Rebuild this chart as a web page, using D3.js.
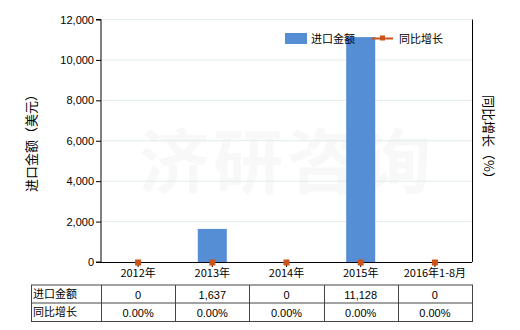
<!DOCTYPE html>
<html><head><meta charset="utf-8">
<script src="https://cdn.jsdelivr.net/npm/d3@7"></script>
<style>body{margin:0;background:#fff}svg{display:block;font-family:"Noto Sans CJK SC","Noto Sans",sans-serif}</style>
</head><body><svg id="c" width="520" height="330"></svg>
<script>
const categories = ["2012年","2013年","2014年","2015年","2016年1-8月"];
const importValues = [0, 1637, 0, 11128, 0];
const growthValues = [0, 0, 0, 0, 0];
const yTicks = [0, 2000, 4000, 6000, 8000, 10000, 12000];
const seriesNames = ["进口金额","同比增长"];

const svg = d3.select("#c");
const L = 101, R = 472, T = 19.5, B = 262;
const x = d3.scaleBand().domain(categories).range([L, R]);
const y = d3.scaleLinear().domain([0, 12000]).range([B, T]);
const y2 = d3.scaleLinear().domain([0, 1]).range([B + 0.5, T]);
const fmt = d3.format(",");

// watermark
svg.append("text").attr("x", 287).attr("y", 188).attr("text-anchor", "middle")
  .attr("font-size", 70).attr("font-weight", "bold").attr("fill", "#f8f8f8")
  .attr("letter-spacing", 4).text("济研咨询");

// grid
svg.append("g").selectAll("line").data(yTicks.filter(d => d > 0)).join("line")
  .attr("x1", L).attr("x2", R).attr("y1", d => y(d)).attr("y2", d => y(d))
  .attr("stroke", "#e1ecec").attr("stroke-width", 1);

// bars
const bw = 29;
svg.append("g").selectAll("rect").data(importValues).join("rect")
  .attr("x", (d, i) => x(categories[i]) + x.bandwidth() / 2 - bw / 2)
  .attr("width", bw)
  .attr("y", d => y(d)).attr("height", d => B - y(d))
  .attr("fill", "#558ed5");

// growth line (under the axis)
const line = d3.line().x((d, i) => x(categories[i]) + x.bandwidth() / 2).y(d => y2(d));
svg.append("path").datum(growthValues).attr("d", line).attr("fill", "none").attr("stroke", "#c8541a").attr("stroke-width", 1);

// left axis
const ax = svg.append("g").attr("transform", `translate(${L},0)`)
  .call(d3.axisLeft(y).tickValues(yTicks).tickFormat(fmt).tickSize(5).tickPadding(2));
ax.selectAll("text").attr("font-size", 11).attr("fill", "#000").attr("font-family", "Liberation Sans, Arial, sans-serif");
ax.selectAll("line,path").attr("stroke", "#000");
ax.select(".domain").attr("d", `M-5,${T}H0V${B}H-5`);

// bottom axis
svg.append("line").attr("x1", L).attr("x2", R).attr("y1", B + 0.5).attr("y2", B + 0.5).attr("stroke", "#000");
svg.append("g").selectAll("line").data(categories).join("line")
  .attr("x1", d => x(d) + x.bandwidth() / 2).attr("x2", d => x(d) + x.bandwidth() / 2)
  .attr("y1", B).attr("y2", B + 5).attr("stroke", "#000");
svg.append("g").selectAll("text").data(categories).join("text")
  .attr("x", d => x(d) + x.bandwidth() / 2).attr("y", B + 15).attr("text-anchor", "middle")
  .attr("font-size", 11).text(d => d);

// right axis
svg.append("line").attr("x1", R + 0.5).attr("x2", R + 0.5).attr("y1", T).attr("y2", B).attr("stroke", "#000");

// growth markers
svg.append("g").selectAll("rect").data(growthValues).join("rect")
  .attr("x", (d, i) => x(categories[i]) + x.bandwidth() / 2 - 3).attr("y", d => y2(d) - 3)
  .attr("width", 6).attr("height", 6).attr("fill", "#c8541a");

// axis titles
svg.append("text").attr("transform", "translate(36,140) rotate(-90)").attr("text-anchor", "middle")
  .attr("font-size", 13).text("进口金额（美元）");
svg.append("text").attr("transform", "translate(484,140) rotate(90)").attr("text-anchor", "middle")
  .attr("font-size", 13).text("同比增长（%）");

// legend
svg.append("rect").attr("x", 285).attr("y", 33).attr("width", 22).attr("height", 11).attr("fill", "#558ed5");
svg.append("text").attr("x", 311).attr("y", 43).attr("font-size", 11).text(seriesNames[0]);
svg.append("line").attr("x1", 372).attr("x2", 393).attr("y1", 38.5).attr("y2", 38.5).attr("stroke", "#c8541a").attr("stroke-width", 2);
svg.append("rect").attr("x", 380).attr("y", 35.5).attr("width", 5).attr("height", 5).attr("fill", "#c8541a");
svg.append("text").attr("x", 399).attr("y", 43).attr("font-size", 11).text(seriesNames[1]);

// table
const tT = 285, tM = 303, tB = 321.5, tL = 31.5;
const tg = svg.append("g").attr("stroke", "#444").attr("fill", "none");
tg.append("rect").attr("x", tL).attr("y", tT).attr("width", R + 0.5 - tL).attr("height", tB - tT);
tg.append("line").attr("x1", tL).attr("x2", R + 0.5).attr("y1", tM).attr("y2", tM);
tg.selectAll("line.c").data(categories).join("line").attr("class", "c")
  .attr("x1", d => Math.round(x(d)) + 0.5).attr("x2", d => Math.round(x(d)) + 0.5).attr("y1", tT).attr("y2", tB);
svg.append("text").attr("x", 33).attr("y", 298).attr("font-size", 11).text(seriesNames[0]);
svg.append("text").attr("x", 33).attr("y", 316).attr("font-size", 11).text(seriesNames[1]);
svg.append("g").selectAll("text").data(importValues).join("text")
  .attr("x", (d, i) => x(categories[i]) + x.bandwidth() / 2).attr("y", 299).attr("text-anchor", "middle")
  .attr("font-size", 11).attr("font-family", "Liberation Sans, Arial, sans-serif").text(d => fmt(d));
svg.append("g").selectAll("text").data(growthValues).join("text")
  .attr("x", (d, i) => x(categories[i]) + x.bandwidth() / 2).attr("y", 317).attr("text-anchor", "middle")
  .attr("font-size", 11).attr("font-family", "Liberation Sans, Arial, sans-serif").text(d => d.toFixed(2) + "%");
</script></body></html>
